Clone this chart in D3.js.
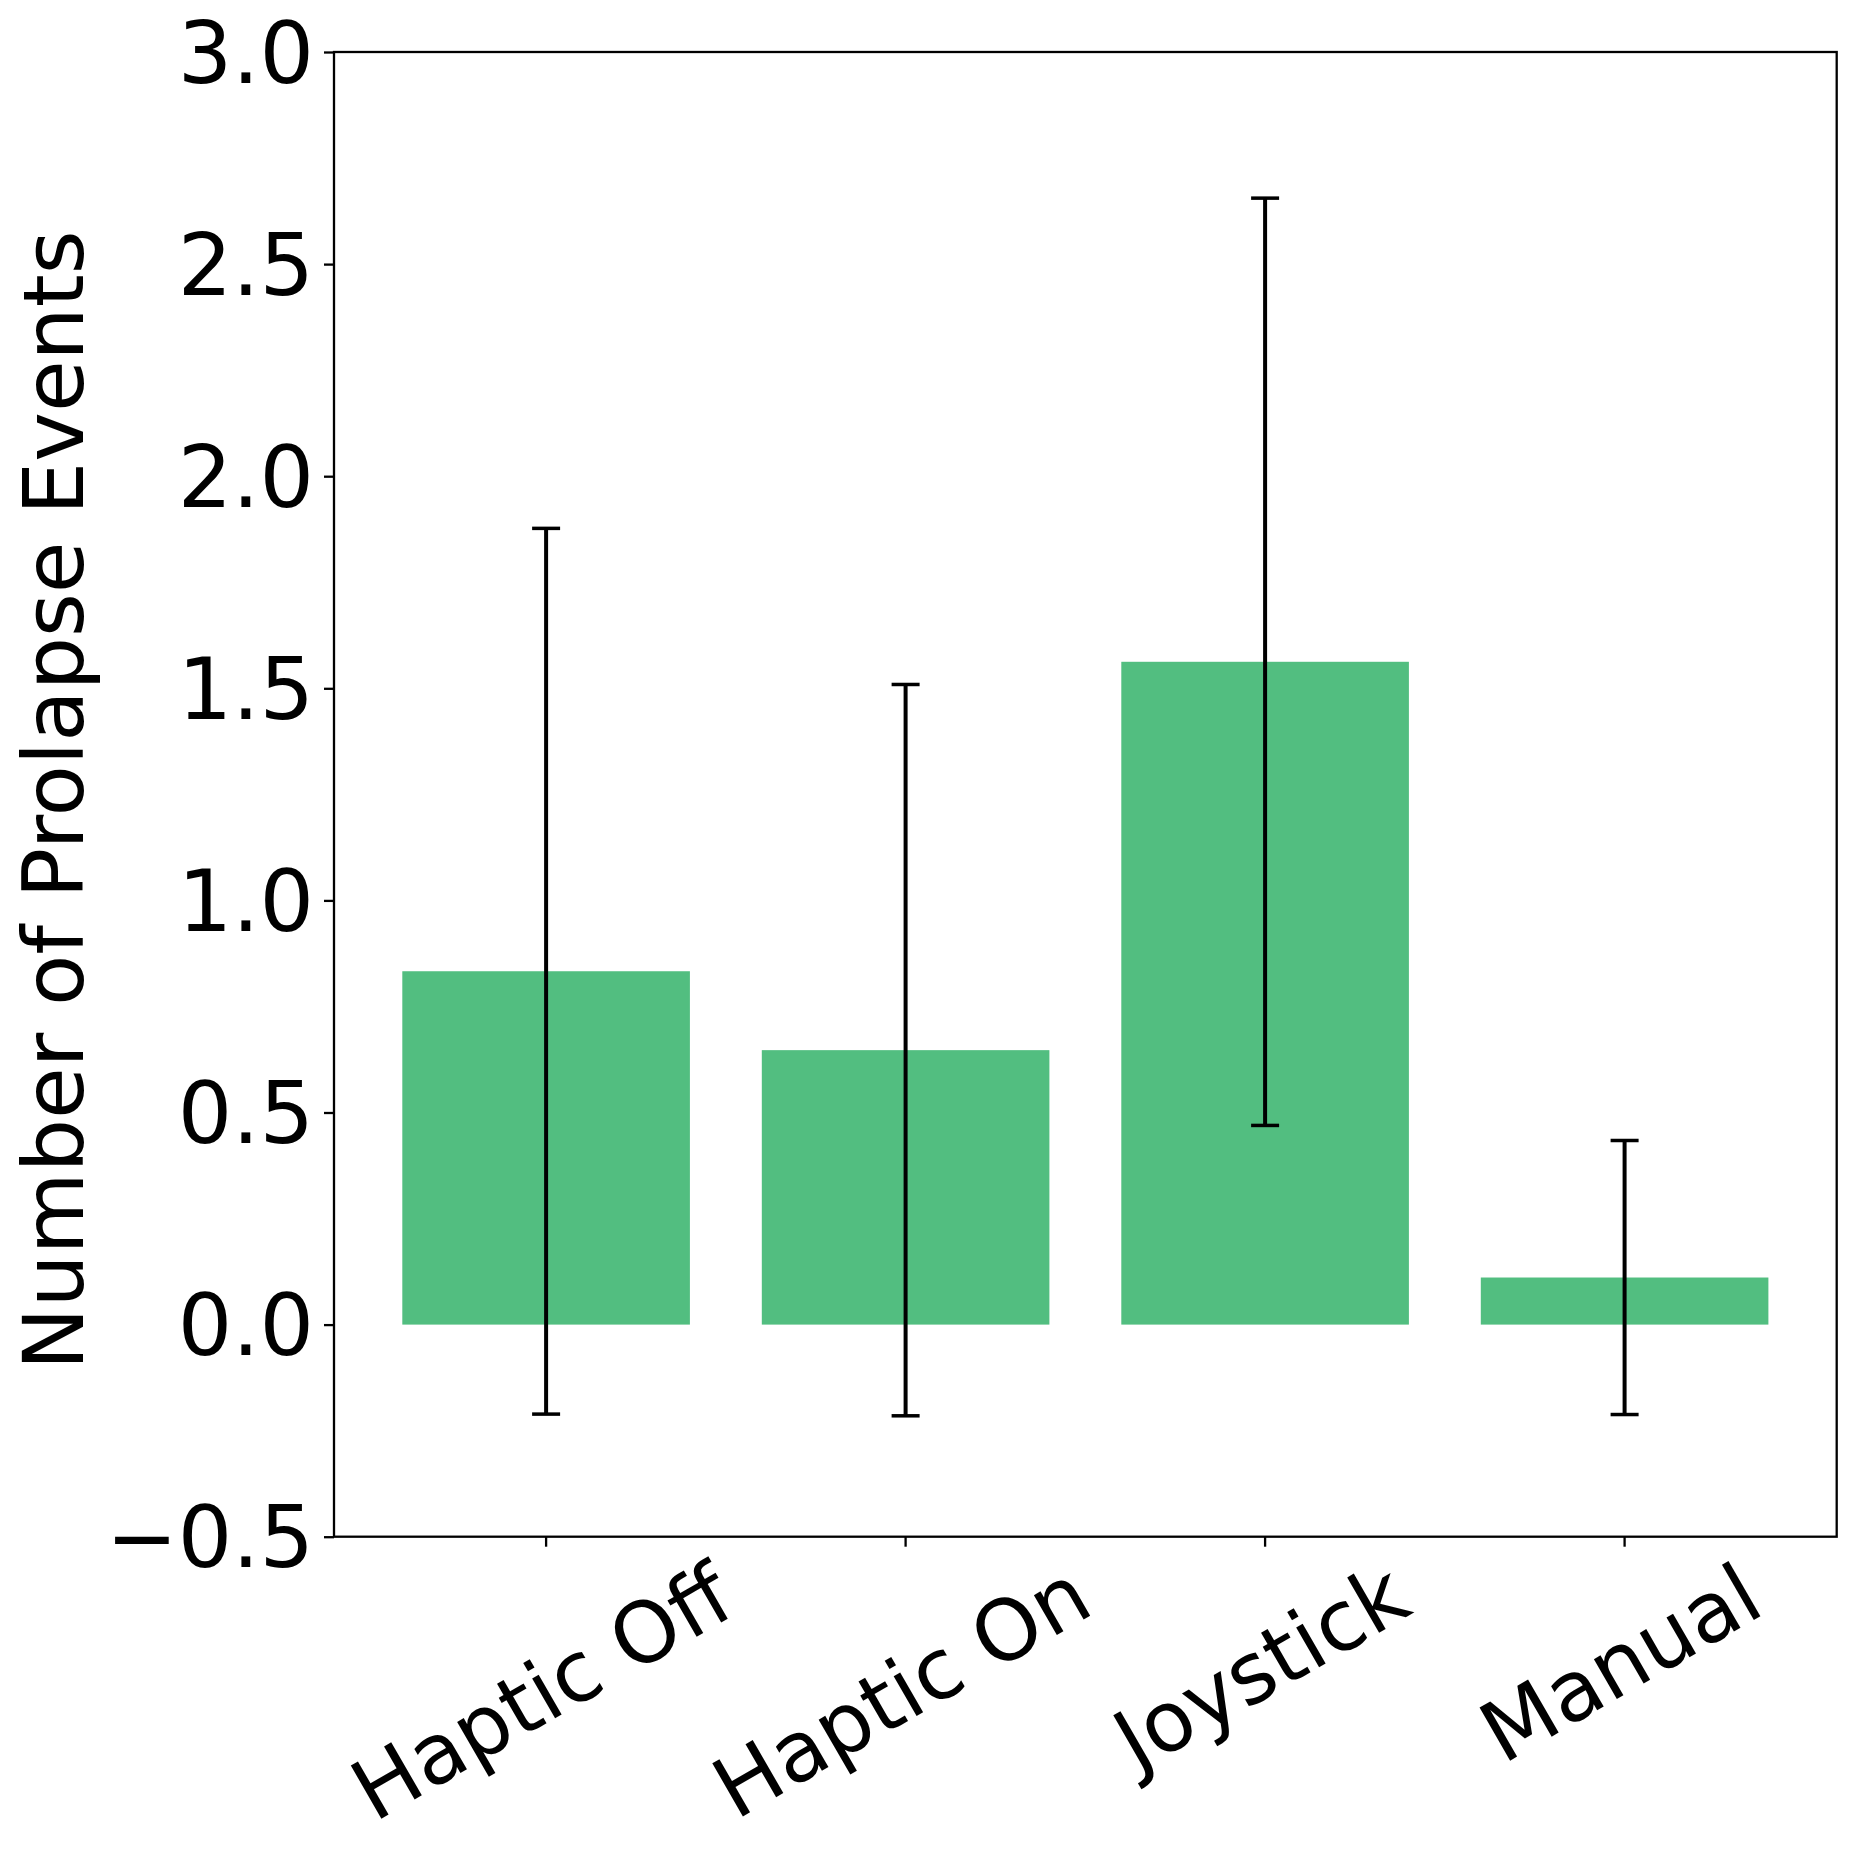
<!DOCTYPE html>
<html>
<head>
<meta charset="utf-8">
<script src="https://cdn.jsdelivr.net/npm/d3@7"></script>
<style>
  body { margin: 0; background: #fff; }
  text { font-family: "DejaVu Sans", sans-serif; fill: #000; }
</style>
</head>
<body>
<div id="chart"></div>
<script>
"use strict";

// == DATA ==
var conditions = ["Haptic Off", "Haptic On", "Joystick", "Manual"];
var means = [0.833, 0.647, 1.5625, 0.111];
var errors = [1.044, 0.862, 1.093, 0.323];
var yTicks = [-0.5, 0.0, 0.5, 1.0, 1.5, 2.0, 2.5, 3.0];

// == BOILERPLATE ==
var W = 1857, H = 1856;
var margin = { top: 52, right: 20.3, bottom: 319.3, left: 334 },
    width = W - margin.left - margin.right,
    height = H - margin.top - margin.bottom;

var fontPx = 84;
var barColor = "#52be80";

var svg = d3.select("#chart")
  .append("svg")
  .attr("width", W)
  .attr("height", H)
  .append("g")
  .attr("transform", "translate(" + margin.left + "," + margin.top + ")");

// == SCALES ==
var x = d3.scaleBand()
  .domain(conditions)
  .range([0, width])
  .paddingInner(0.2)
  .paddingOuter(0.19);

var y = d3.scaleLinear()
  .domain([-0.5, 3.0])
  .range([height, 0]);

// == BARS ==
svg.selectAll("rect.bar")
  .data(conditions)
  .enter()
  .append("rect")
  .attr("class", "bar")
  .attr("x", function (d) { return x(d); })
  .attr("width", x.bandwidth())
  .attr("y", function (d, i) { return Math.min(y(means[i]), y(0)); })
  .attr("height", function (d, i) { return Math.abs(y(0) - y(means[i])); })
  .attr("fill", barColor);

// == ERROR BARS ==
var cap = 14;
var eb = svg.selectAll("g.err")
  .data(conditions)
  .enter()
  .append("g")
  .attr("class", "err");

eb.append("line")
  .attr("x1", function (d) { return x(d) + x.bandwidth() / 2; })
  .attr("x2", function (d) { return x(d) + x.bandwidth() / 2; })
  .attr("y1", function (d, i) { return y(means[i] - errors[i]); })
  .attr("y2", function (d, i) { return y(means[i] + errors[i]); })
  .attr("stroke", "#000")
  .attr("stroke-width", 4);

[-1, 1].forEach(function (s) {
  eb.append("line")
    .attr("x1", function (d) { return x(d) + x.bandwidth() / 2 - cap; })
    .attr("x2", function (d) { return x(d) + x.bandwidth() / 2 + cap; })
    .attr("y1", function (d, i) { return y(means[i] + s * errors[i]); })
    .attr("y2", function (d, i) { return y(means[i] + s * errors[i]); })
    .attr("stroke", "#000")
    .attr("stroke-width", 3.5);
});

// == AXES ==
var yAxis = d3.axisLeft(y)
  .tickValues(yTicks)
  .tickSize(10)
  .tickPadding(10)
  .tickFormat(d3.format(".1f"));

var gy = svg.append("g").call(yAxis);
gy.select(".domain").remove();
gy.selectAll(".tick line").attr("stroke-width", 2.3);
gy.selectAll(".tick text")
  .style("font-size", "85.7px")
  .style("font-family", "DejaVu Sans")
  .attr("dy", "0.35em");

var xAxis = d3.axisBottom(x)
  .tickSize(10)
  .tickFormat("");

var gx = svg.append("g")
  .attr("transform", "translate(0," + height + ")")
  .call(xAxis);
gx.select(".domain").remove();
gx.selectAll(".tick line").attr("stroke-width", 2.3);

// rotated category labels, bbox centred under tick like matplotlib
var ang = 30 * Math.PI / 180;
var lineH = 1.164 * fontPx;
gx.selectAll(".tick").each(function (d) {
  var t = d3.select(this).append("text")
    .style("font-size", fontPx + "px")
    .attr("text-anchor", "middle")
    .text(d);
  var tw = t.node().getComputedTextLength();
  var bh = tw * Math.sin(ang) + lineH * Math.cos(ang);
  var cy = 8 + bh / 2;
  // baseline offset from text box centre
  var base = (0.928 - 0.236) / 2 * fontPx;
  t.attr("transform", "translate(-4," + cy + ") rotate(-30)")
   .attr("y", base)
   .attr("fill", "#000");
});

// frame
svg.append("rect")
  .attr("x", 0)
  .attr("y", 0)
  .attr("width", width)
  .attr("height", height)
  .attr("fill", "none")
  .attr("stroke", "#000")
  .attr("stroke-width", 2.3);

// y label
svg.append("text")
  .attr("transform", "translate(" + (83 - margin.left) + "," + (height / 2 + 6) + ") rotate(-90)")
  .attr("text-anchor", "middle")
  .style("font-size", fontPx + "px")
  .text("Number of Prolapse Events");
</script>
</body>
</html>
